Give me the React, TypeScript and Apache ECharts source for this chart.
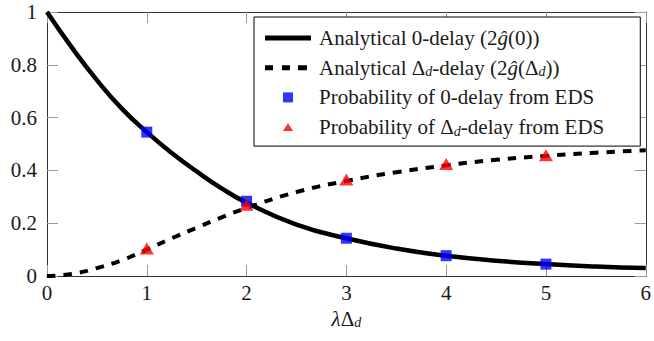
import React, { useEffect, useRef } from "react";
import * as echarts from "echarts";

// Analytical curves at these x positions
const xSamples = [0, 0.25, 0.5, 0.75, 1, 1.25, 1.5, 1.75, 2, 2.5, 3, 3.5, 4, 4.5, 5, 5.5, 6];
const zeroDelayCurve = [1.0, 0.865, 0.742, 0.634, 0.545, 0.466, 0.396, 0.332, 0.278, 0.195, 0.143, 0.104, 0.077, 0.058, 0.045, 0.036, 0.03];
const deltaDelayCurve = [0, 0.008, 0.03, 0.06, 0.1, 0.143, 0.183, 0.222, 0.258, 0.318, 0.36, 0.393, 0.419, 0.44, 0.455, 0.467, 0.476];

// Empirical (EDS) points
const edsX = [1, 2, 3, 4, 5];
const edsZeroDelay = [0.545, 0.283, 0.143, 0.077, 0.045];
const edsDeltaDelay = [0.104, 0.27, 0.366, 0.424, 0.457];

const seriesNames = [
  "Analytical 0-delay (2ĝ(0))",
  "Analytical Δd-delay (2ĝ(Δd))",
  "Probability of 0-delay from EDS",
  "Probability of Δd-delay from EDS",
];
const legendRich: Record<string, string> = {
  [seriesNames[0]]: "Analytical 0-delay (2{i|ĝ}(0))",
  [seriesNames[1]]: "Analytical Δ{sub|d}-delay (2{i|ĝ}(Δ{sub|d}))",
  [seriesNames[2]]: "Probability of 0-delay from EDS",
  [seriesNames[3]]: "Probability of Δ{sub|d}-delay from EDS",
};

const FONT = "Liberation Serif";
const TEXT = "#1a1a1a";
const FS = 21;

const richStyles = {
  i: { fontFamily: FONT, fontStyle: "italic", fontSize: FS, color: TEXT, lineHeight: 22 },
  sub: { fontFamily: FONT, fontStyle: "italic", fontSize: 14, color: TEXT, lineHeight: 12, verticalAlign: "bottom" },
};

function makeAxis(position: string, min: number, max: number, interval: number, showLabel: boolean, labelMargin: number) {
  return {
    type: "value",
    position,
    min,
    max,
    interval,
    axisLine: { show: true, onZero: false, lineStyle: { color: "#333", width: 1 } },
    axisTick: { show: true, inside: true, length: 11, lineStyle: { color: "#999", width: 1 } },
    splitLine: { show: false },
    axisLabel: {
      show: showLabel,
      fontFamily: FONT,
      fontSize: FS,
      color: TEXT,
      margin: labelMargin,
      hideOverlap: false,
    },
  };
}

export default function App() {
  const ref = useRef<HTMLDivElement>(null);
  useEffect(() => {
    if (!ref.current) return;
    const chart = echarts.init(ref.current, null, { renderer: "svg" });
    const xBottom: any = makeAxis("bottom", 0, 6, 1, true, 6);
    xBottom.name = "{i|λ}Δ{sub|d}";
    xBottom.nameLocation = "middle";
    xBottom.nameGap = 30;
    xBottom.nameTextStyle = { fontFamily: FONT, fontSize: FS, color: TEXT, lineHeight: 22, rich: richStyles };
    const option: any = {
      animation: false,
      backgroundColor: "#fff",
      textStyle: { fontFamily: FONT, fontSize: FS, color: TEXT },
      grid: { left: 47, top: 12, right: 3, bottom: 65, containLabel: false },
      xAxis: [xBottom, makeAxis("top", 0, 6, 1, false, 8)],
      yAxis: [makeAxis("left", 0, 1, 0.2, true, 10), makeAxis("right", 0, 1, 0.2, false, 8)],
      legend: {
        show: true,
        orient: "vertical",
        left: 254,
        top: 17,
        padding: [10, 36, 8, 11],
        itemWidth: 49,
        itemHeight: 10,
        itemGap: 7.7,
        symbolKeepAspect: true,
        backgroundColor: "#fff",
        borderColor: "#000",
        borderWidth: 1,
        borderRadius: 0,
        selectedMode: false,
        formatter: (name: string) => legendRich[name] ?? name,
        textStyle: { fontFamily: FONT, fontSize: FS, color: TEXT, lineHeight: 22, rich: richStyles },
        data: [
          { name: seriesNames[0], icon: "path://M0 2.5H46V7.5H0Z M0 0 M49 10", itemStyle: { color: "#000" } },
          {
            name: seriesNames[1],
            icon: "path://M0 2.5H8V7.5H0Z M17 2.5H25V7.5H17Z M33 2.5H42V7.5H33Z M0 0 M49 10",
            itemStyle: { color: "#000" },
          },
          { name: seriesNames[2], icon: "path://M18 0H28V10H18Z M0 0 M49 10", itemStyle: { color: "#0000ff" } },
          { name: seriesNames[3], icon: "path://M23 1L28 9H18Z M0 0 M49 10", itemStyle: { color: "#ff0000" } },
        ],
      },
      series: [
        {
          type: "line",
          name: seriesNames[0],
          data: xSamples.map((x, i) => [x, zeroDelayCurve[i]]),
          smooth: true,
          symbol: "none",
          lineStyle: { color: "#000", width: 4.5 },
          itemStyle: { color: "#000" },
          z: 2,
        },
        {
          type: "line",
          name: seriesNames[1],
          data: xSamples.map((x, i) => [x, deltaDelayCurve[i]]),
          smooth: true,
          symbol: "none",
          lineStyle: { color: "#000", width: 4, type: [8.5, 8], cap: "butt" },
          itemStyle: { color: "#000" },
          z: 2,
        },
        {
          type: "scatter",
          name: seriesNames[2],
          data: edsX.map((x, i) => [x, edsZeroDelay[i]]),
          symbol: "rect",
          symbolSize: 11,
          itemStyle: { color: "#0000ff" },
          z: 4,
        },
        {
          type: "scatter",
          name: seriesNames[3],
          data: edsX.map((x, i) => [x, edsDeltaDelay[i]]),
          symbol: "triangle",
          symbolSize: [14, 12],
          itemStyle: { color: "#ff0000" },
          z: 5,
        },
      ],
    };
    chart.setOption(option);
    return () => chart.dispose();
  }, []);
  return (
    <div
      ref={ref}
      style={{ position: "fixed", left: 0, top: 0, width: 654, height: 341, background: "#fff" }}
    />
  );
}
